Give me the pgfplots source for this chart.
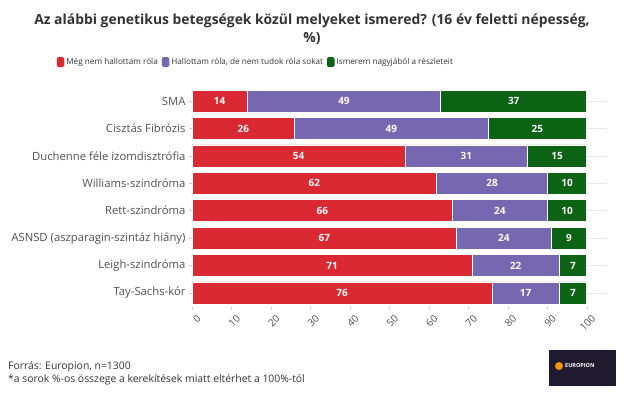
\documentclass[border=0pt]{standalone}
\usepackage{pgfplots}
\pgfplotsset{compat=1.18}
\usepackage{pgfplotstable}
\usepackage{fontspec}
\setmainfont{Open Sans}
\definecolor{cred}{RGB}{218,41,50}
\definecolor{cpurple}{RGB}{117,104,176}
\definecolor{cgreen}{RGB}{12,99,20}
\definecolor{ctext}{RGB}{51,51,51}
\definecolor{clabel}{RGB}{80,80,80}
\definecolor{clogo}{RGB}{32,26,46}
\pgfplotstableread{
idx r p g
0 14 49 37
1 26 49 25
2 54 31 15
3 62 28 10
4 66 24 10
5 67 24 9
6 71 22 7
7 76 17 7
}\data
\pgfplotsset{
  common/.style={
    at={(192bp,-306.7bp)}, anchor=south west,
    scale only axis, width=414.5bp, height=219.4bp,
    xmin=0, xmax=105, ymin=-0.5, ymax=7.5, y dir=reverse,
    /pgf/number format/assume math mode=true,
  }
}
\begin{document}
\begin{tikzpicture}
\path (0,0) rectangle (624bp,-393bp);
\node[font=\fontsize{13.9bp}{18bp}\selectfont\bfseries, text=ctext, align=center] at (312bp,-29bp)
  {Az alábbi genetikus betegségek közül melyeket ismered? (16 év feletti népesség,\\ \%)};
\begin{axis}[
  common,
  xbar stacked, bar width=22bp,
  xtick={0,10,...,100},
  ytick={0,...,7},
  yticklabels={SMA, Cisztás Fibrózis, Duchenne féle izomdisztrófia, Williams-szindróma, Rett-szindróma, ASNSD (aszparagin-szintáz hiány), Leigh-szindróma, Tay-Sachs-kór},
  axis line style={draw=none},
  tick align=outside, major tick length=3bp,
  tick style={gray!40, line width=0.5pt},
  xtick pos=bottom, ytick pos=left,
  ymajorgrids, grid style={gray!18, line width=0.6pt},
  yticklabel style={font=\fontsize{11.3bp}{13bp}\selectfont, text=clabel},
  xticklabel style={font=\fontsize{10bp}{12bp}\selectfont, text=clabel, rotate=45, anchor=east, inner sep=0bp, yshift=-10bp, xshift=0bp},
  legend columns=3,
  legend style={at={(rel axis cs:0.154,1.115)}, anchor=center, draw=none, fill=none,
    font=\fontsize{8.2bp}{10bp}\selectfont, text=ctext,
    /tikz/every even column/.append style={column sep=2bp}},
  legend image code/.code={\fill[#1, draw=none, rounded corners=1.5bp] (0bp,-5bp) rectangle (7.5bp,5bp);},
]
\addplot[fill=cred, draw=white, line width=0.7pt] table[x=r, y=idx]{\data};
\addlegendentry{Még nem hallottam róla}
\addplot[fill=cpurple, draw=white, line width=0.7pt] table[x=p, y=idx]{\data};
\addlegendentry{Hallottam róla, de nem tudok róla sokat}
\addplot[fill=cgreen, draw=white, line width=0.7pt] table[x=g, y=idx]{\data};
\addlegendentry{Ismerem nagyjából a részleteit}
\end{axis}
\begin{axis}[
  common, hide axis,
  nodes near coords, point meta=explicit,
  every node near coord/.append style={anchor=center, text=white, font=\fontsize{10bp}{12bp}\selectfont\bfseries},
]
\addplot[draw=none, mark=none] table[x expr=\thisrow{r}/2, y=idx, meta=r]{\data};
\addplot[draw=none, mark=none] table[x expr=\thisrow{r}+\thisrow{p}/2, y=idx, meta=p]{\data};
\addplot[draw=none, mark=none] table[x expr=\thisrow{r}+\thisrow{p}+\thisrow{g}/2, y=idx, meta=g]{\data};
\end{axis}
\node[anchor=base west, font=\fontsize{10.4bp}{12bp}\selectfont, text=ctext, inner sep=0pt] at (8bp,-369bp) {Forrás: Europion, n=1300};
\node[anchor=base west, font=\fontsize{10.4bp}{12bp}\selectfont, text=ctext, inner sep=0pt] at (8bp,-382bp) {*a sorok \%-os összege a kerekítések miatt eltérhet a 100\%-tól};
\fill[clogo] (549bp,-350bp) rectangle (616bp,-386bp);
\fill[orange!85!yellow] (559bp,-366bp) circle (4bp);
\node[anchor=west, text=white, font=\fontsize{5.5bp}{6bp}\selectfont\bfseries, inner sep=0pt] at (565bp,-366bp) {EUROPION};
\end{tikzpicture}
\end{document}
